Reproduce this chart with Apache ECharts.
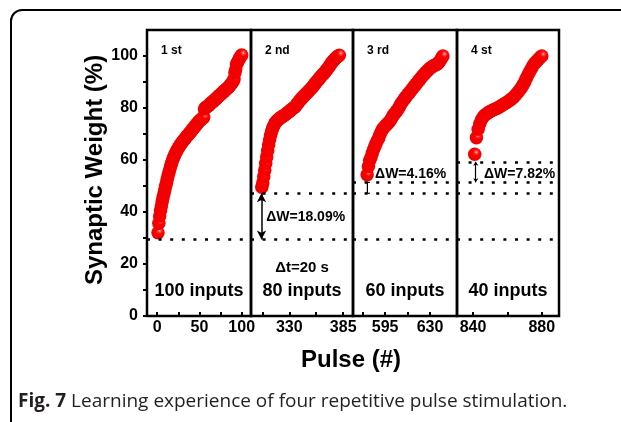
<!DOCTYPE html>
<html>
<head>
<meta charset="utf-8">
<script src="https://cdn.jsdelivr.net/npm/echarts@6/dist/echarts.min.js"></script>
<style>
html, body { margin: 0; padding: 0; background: #fff; }
#chart { width: 621px; height: 422px; }
</style>
</head>
<body>
<div id="chart"></div>
<script>
// first pulse number of each training run
const runStart = [1, 302, 581, 841];

// synaptic weight (%) per pulse
const run1 = [32.0, 35.7, 38.5, 40.6, 42.3, 44.0, 45.6, 47.0, 48.4, 49.9,
  51.2, 52.6, 54.0, 55.2, 56.5, 57.7, 58.6, 59.7, 60.6, 61.3,
  62.1, 62.8, 63.5, 64.0, 64.6, 65.1, 65.7, 66.1, 66.6, 67.0,
  67.4, 67.9, 68.2, 68.6, 69.1, 69.4, 69.8, 70.3, 70.6, 71.0,
  71.4, 71.9, 72.2, 72.6, 73.1, 73.4, 73.8, 74.3, 74.6, 75.0,
  75.3, 75.6, 75.9, 76.2, 76.4, 79.6, 80.0, 80.3, 80.6, 80.8,
  81.0, 81.3, 81.7, 81.9, 82.2, 82.5, 82.8, 83.1, 83.4, 83.7,
  84.0, 84.3, 84.7, 84.9, 85.2, 85.5, 85.8, 86.1, 86.4, 86.7,
  87.0, 87.3, 87.6, 87.9, 88.2, 88.6, 89.0, 89.4, 89.9, 90.4,
  91.2, 93.6, 95.0, 96.8, 97.5, 98.2, 98.8, 99.4, 99.9, 100.4];
const run2 = [49.5, 51.2, 53.6, 56.1, 58.7, 61.2, 63.6, 65.9, 67.8, 69.5,
  71.0, 72.1, 73.0, 73.8, 74.4, 74.9, 75.3, 75.6, 75.9, 76.2,
  76.5, 76.7, 76.9, 77.2, 77.5, 77.8, 78.1, 78.4, 78.7, 79.0,
  79.3, 79.6, 79.9, 80.2, 80.6, 81.0, 81.5, 82.0, 82.5, 83.0,
  83.4, 83.8, 84.2, 84.6, 85.0, 85.4, 85.8, 86.2, 86.6, 87.0,
  87.4, 87.8, 88.2, 88.7, 89.2, 89.7, 90.2, 90.6, 91.0, 91.5,
  92.0, 92.4, 92.8, 93.2, 93.6, 94.1, 94.6, 95.1, 95.6, 96.1,
  96.7, 97.3, 97.8, 98.2, 98.6, 99.0, 99.4, 99.7, 100.0, 100.3];
const run3 = [54.3, 57.5, 59.8, 61.0, 62.6, 64.0, 65.2, 66.4, 67.5, 68.5,
  69.8, 70.9, 71.8, 72.5, 73.0, 73.5, 74.0, 74.5, 75.2, 76.0,
  76.9, 77.6, 78.2, 78.8, 79.5, 80.4, 81.3, 82.1, 82.8, 83.5,
  84.1, 84.8, 85.4, 86.0, 86.6, 87.2, 87.9, 88.5, 89.1, 89.7,
  90.4, 91.0, 91.6, 92.2, 92.8, 93.3, 93.8, 94.3, 94.8, 95.3,
  95.7, 96.0, 96.3, 96.5, 96.7, 97.0, 97.6, 98.4, 99.2, 100.0];
const run4 = [62.2, 68.6, 71.8, 74.0, 75.6, 76.6, 77.3, 77.8, 78.3, 78.7,
  79.0, 79.3, 79.6, 79.9, 80.3, 80.7, 81.1, 81.5, 81.9, 82.3,
  82.8, 83.3, 83.8, 84.4, 85.2, 86.0, 86.8, 87.7, 88.8, 90.0,
  91.4, 92.8, 94.0, 95.2, 96.4, 97.3, 98.0, 98.7, 99.4, 100.0];
const runs = [run1, run2, run3, run4];

const runLabels = ['1 st', '2 nd', '3 rd', '4 st'];
const inputLabels = ['100 inputs', '80 inputs', '60 inputs', '40 inputs'];

// x axis of each panel
const xMin = [-12, 291, 570, 830.7];
const xMax = [111, 395, 651, 890];
const xLabelValues = [[0, 50, 100], [330, 385], [595, 630], [840, 880]];
const xTickValues = [[0, 25, 50, 75, 100], [302.5, 330, 357.5, 385], [577.5, 595, 612.5, 630], [840, 860, 880]];

const yLabelValues = [0, 20, 40, 60, 80, 100];
const yTickValues = [0, 10, 20, 30, 40, 50, 60, 70, 80, 90, 100];

// dotted reference levels and the first panel they appear in
const levels = [29.4, 47.2, 51.4, 59.3];
const levelFrom = [0, 1, 2, 3];

// weight change between runs: [panel, x, from, to, text, textX, textY]
const deltas = [
  [1, 301.7, 47.2, 29.4, 'ΔW=18.09%', 306.5, 38],
  [2, 581.2, 47.2, 51.4, 'ΔW=4.16%', 587.2, 54.4],
  [3, 841.6, 51.4, 59.3, 'ΔW=7.82%', 846.4, 54.7]
];

const gridLeft = [147, 251, 353, 457];
const gridWidth = [104, 102, 104, 102];
const gridTop = 30;
const gridHeight = 286;

let chart = echarts.init(document.getElementById('chart'));

let grids = [], xAxes = [], yAxes = [], series = [];
for (let k = 0; k < 4; k++) {
    grids.push({
        left: gridLeft[k], top: gridTop, width: gridWidth[k], height: gridHeight,
        show: true, borderColor: '#000', borderWidth: 2.5, backgroundColor: 'transparent'
    });
    xAxes.push({
        type: 'value', gridIndex: k, min: xMin[k], max: xMax[k],
        splitLine: { show: false },
        axisLine: { show: false, onZero: false },
        axisTick: { show: true, inside: true, length: 4, customValues: xTickValues[k],
            lineStyle: { color: '#000', width: 2 } },
        axisLabel: { customValues: xLabelValues[k], color: '#000', fontWeight: 'bold',
            fontSize: 16, margin: 4, fontFamily: 'Liberation Sans' }
    });
    yAxes.push({
        type: 'value', gridIndex: k, min: 0, max: 110,
        splitLine: { show: false },
        axisLine: { show: false, onZero: false },
        axisTick: { show: k === 0, inside: false, length: 4, customValues: yTickValues,
            lineStyle: { color: '#000', width: 2 } },
        axisLabel: { show: k === 0, customValues: yLabelValues, color: '#000',
            fontWeight: 'bold', fontSize: 16, margin: 9, fontFamily: 'Liberation Sans' }
    });

    let lineData = [];
    for (let j = 0; j < levels.length; j++) {
        if (levelFrom[j] <= k) lineData.push({ yAxis: levels[j] });
    }
    // double arrow for the big drop between run 1 and run 2
    if (k === 1) {
        lineData.push([
            { coord: [deltas[0][1], deltas[0][2]], symbol: 'arrow', symbolSize: [7, 9],
              lineStyle: { type: 'solid', width: 1.5, color: '#000' } },
            { coord: [deltas[0][1], deltas[0][3]], symbol: 'arrow', symbolSize: [7, 9] }
        ]);
    }
    if (k === 3) {
        lineData.push([
            { coord: [deltas[2][1], deltas[2][2]], symbol: 'arrow', symbolSize: [4, 4],
              lineStyle: { type: 'solid', width: 1.2, color: '#000' } },
            { coord: [deltas[2][1], deltas[2][3]], symbol: 'arrow', symbolSize: [4, 4] }
        ]);
    }

    series.push({
        type: 'scatter', xAxisIndex: k, yAxisIndex: k,
        data: runs[k].map((v, i) => [runStart[k] + i, v]),
        symbolSize: 13.5,
        itemStyle: {
            opacity: 1,
            color: {
                type: 'radial', x: 0.62, y: 0.35, r: 0.6,
                colorStops: [
                    { offset: 0, color: '#ffe0e0' },
                    { offset: 0.15, color: '#ff5050' },
                    { offset: 0.4, color: '#ff0000' },
                    { offset: 1, color: '#f00000' }
                ]
            }
        },
        markLine: {
            silent: true, symbol: ['none', 'none'], animation: false,
            label: { show: false },
            lineStyle: { color: '#000', type: [3, 8.6], width: 2.5 },
            data: lineData
        },
        z: 3
    });
}

chart.setOption({
    animation: false,
    textStyle: { fontFamily: 'Liberation Sans' },
    grid: grids, xAxis: xAxes, yAxis: yAxes, series: series
});

// texts placed through the axes' own scales
let graphics = [];
graphics.push({
    type: 'rect', shape: { x: 11, y: 10, width: 900, height: 600, r: 11 },
    style: { fill: 'none', stroke: '#000', lineWidth: 2 }, z: 0
});
for (let k = 0; k < 4; k++) {
    let top = chart.convertToPixel({ gridIndex: k }, [xMin[k], 102]);
    graphics.push({
        type: 'text', x: gridLeft[k] + 14, y: top[1],
        style: { text: runLabels[k], fill: '#000', font: 'bold 12px "Liberation Sans"',
            verticalAlign: 'middle' }, z: 10
    });
    let bot = chart.convertToPixel({ gridIndex: k }, [xMin[k], 9.5]);
    graphics.push({
        type: 'text', x: gridLeft[k] + gridWidth[k] / 2, y: bot[1],
        style: { text: inputLabels[k], fill: '#000', font: 'bold 18px "Liberation Sans"',
            align: 'center', verticalAlign: 'middle' }, z: 10
    });
}
let dt = chart.convertToPixel({ gridIndex: 1 }, [xMin[1], 18.5]);
graphics.push({
    type: 'text', x: gridLeft[1] + gridWidth[1] / 2, y: dt[1],
    style: { text: 'Δt=20 s', fill: '#000', font: 'bold 15px "Liberation Sans"',
        align: 'center', verticalAlign: 'middle' }, z: 10
});
deltas.forEach(d => {
    let p = chart.convertToPixel({ gridIndex: d[0] }, [d[5], d[6]]);
    graphics.push({
        type: 'text', x: p[0], y: p[1],
        style: { text: d[4], fill: '#000', font: 'bold 14px "Liberation Sans"',
            verticalAlign: 'middle' }, z: 10
    });
});
// small I-bar for the 3rd run
let ia = chart.convertToPixel({ gridIndex: 2 }, [deltas[1][1], deltas[1][2]]);
let ib = chart.convertToPixel({ gridIndex: 2 }, [deltas[1][1], deltas[1][3]]);
graphics.push({
    type: 'group', z: 10, children: [
        { type: 'line', shape: { x1: ia[0], y1: ia[1], x2: ib[0], y2: ib[1] }, style: { stroke: '#000', lineWidth: 1.2 } },
        { type: 'line', shape: { x1: ia[0] - 2.5, y1: ia[1], x2: ia[0] + 2.5, y2: ia[1] }, style: { stroke: '#000', lineWidth: 1.2 } },
        { type: 'line', shape: { x1: ib[0] - 2.5, y1: ib[1], x2: ib[0] + 2.5, y2: ib[1] }, style: { stroke: '#000', lineWidth: 1.2 } }
    ]
});
// axis titles
graphics.push({
    type: 'text', x: 95, y: 170, rotation: Math.PI / 2,
    style: { text: 'Synaptic Weight (%)', fill: '#000', font: 'bold 24px "Liberation Sans"',
        align: 'center', verticalAlign: 'middle' }
});
graphics.push({
    type: 'text', x: 351, y: 360,
    style: { text: 'Pulse (#)', fill: '#000', font: 'bold 24px "Liberation Sans"',
        align: 'center', verticalAlign: 'middle' }
});
// figure caption
graphics.push({
    type: 'text', x: 18, y: 402,
    style: {
        text: '{b|Fig. 7} Learning experience of four repetitive pulse stimulation.',
        fill: '#231f20', font: '19px "Open Sans"', verticalAlign: 'middle',
        rich: { b: { fontWeight: 'bold', fontSize: 19, fontFamily: 'Open Sans', fill: '#231f20' } }
    }
});

chart.setOption({ graphic: graphics });
</script>
</body>
</html>
